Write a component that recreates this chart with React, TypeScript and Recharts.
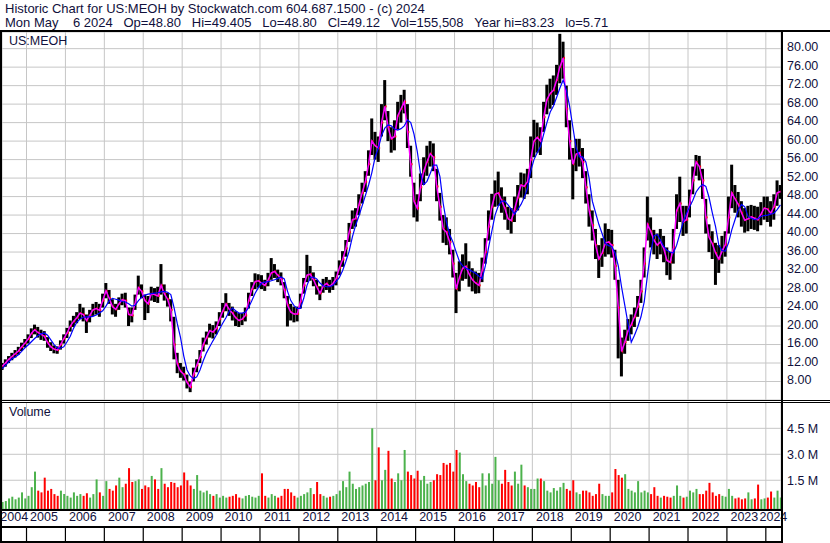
import React from 'react';
import { ComposedChart, Bar, Line, XAxis, YAxis, CartesianGrid, Cell } from 'recharts';

// monthly bars, May 2004 .. May 2024
const START = 2004.375;
const T0 = 2004.37;
const T1 = 2024.39;

const closes = [
  11.3, 12.0, 12.8, 13.4, 14.0, 14.6, 15.5, 16.3, 17.2, 18.4, 19.2, 18.6,
  18.2, 17.8, 16.4, 15.5, 15.0, 14.8, 16.0, 17.3, 18.5, 20.0, 21.0, 21.8,
  22.8, 22.5, 21.2, 22.3, 23.5, 23.8, 23.4, 25.5, 27.6, 26.0, 24.2, 23.6,
  24.8, 25.7, 25.5, 22.5, 22.3, 25.0, 28.3, 27.5, 25.5, 24.8, 27.0, 26.8,
  26.5, 28.8, 27.0, 25.8, 23.5, 16.0, 11.8, 10.2, 9.6, 7.8, 6.8, 9.5,
  11.5, 13.3, 16.0, 17.5, 19.0, 18.7, 19.5, 21.5, 23.2, 24.8, 23.6, 22.8,
  21.8, 21.2, 21.5, 22.3, 25.5, 28.0, 29.6, 29.8, 29.3, 28.8, 30.0, 31.5,
  31.8, 31.0, 30.2, 27.8, 24.5, 23.0, 22.6, 22.6, 25.3, 28.8, 31.0, 31.2,
  30.0, 28.5, 27.1, 28.6, 29.2, 28.6, 29.2, 30.3, 32.6, 34.4, 36.8, 40.3,
  43.0, 43.2, 46.2, 48.8, 51.2, 55.0, 60.0, 59.0, 58.5, 64.0, 67.5, 63.0,
  60.5, 61.0, 65.5, 67.0, 68.5, 62.0, 55.0, 47.0, 45.5, 50.0, 53.5, 55.5,
  57.3, 56.5, 50.2, 45.8, 41.0, 40.3, 38.2, 33.5, 28.0, 30.5, 32.5, 32.9,
  31.2, 30.0, 29.3, 28.8, 32.0, 36.0, 41.5, 45.8, 48.5, 48.8, 47.2, 45.5,
  43.2, 42.8, 45.2, 47.8, 50.5, 50.2, 51.2, 56.0, 60.0, 60.8, 60.0, 65.2,
  69.0, 70.3, 71.0, 73.2, 76.1, 78.0, 67.0, 60.0, 55.0, 57.2, 57.5, 55.5,
  50.0, 45.0, 41.8, 37.5, 34.5, 35.8, 37.9, 38.2, 37.5, 33.0, 24.0, 14.5,
  16.5, 19.0, 20.3, 22.0, 24.2, 27.5, 33.5, 42.0, 40.5, 38.6, 37.5, 38.2,
  36.8, 34.2, 33.8, 37.0, 45.0, 46.5, 42.5, 43.0, 46.5, 51.5, 55.5, 54.5,
  51.5, 43.5, 39.2, 37.8, 35.8, 34.5, 36.2, 37.6, 43.5, 48.8, 47.5, 46.3,
  44.5, 42.9, 43.2, 43.6, 43.3, 43.0, 44.2, 45.5, 45.3, 44.4, 45.8, 48.8,
  49.1,
];

const lows = [
  10.5, 11.2, 12.0, 12.6, 13.2, 13.8, 14.6, 15.4, 16.2, 17.4, 18.2, 17.5,
  17.0, 16.8, 15.3, 14.6, 14.1, 14.0, 14.9, 16.2, 17.4, 18.8, 19.8, 20.6,
  21.5, 21.0, 18.5, 20.8, 22.2, 22.5, 22.0, 24.0, 26.0, 24.8, 22.5, 22.0,
  23.5, 24.5, 24.0, 20.0, 20.8, 23.5, 26.8, 26.0, 21.3, 22.8, 25.5, 25.2,
  25.0, 26.8, 25.5, 24.2, 21.0, 12.8, 9.8, 8.8, 8.2, 6.5, 5.7, 8.0,
  10.0, 12.0, 14.5, 16.0, 17.5, 17.3, 18.2, 20.0, 21.8, 23.2, 22.2, 21.2,
  20.0, 19.8, 20.2, 21.0, 23.8, 26.5, 28.0, 28.3, 28.0, 27.6, 28.6, 30.0,
  30.4, 29.5, 28.8, 26.0, 19.9, 21.2, 20.8, 21.0, 23.8, 27.0, 29.5, 29.8,
  28.6, 26.8, 25.6, 27.2, 27.8, 27.2, 27.8, 28.8, 31.0, 32.8, 35.0, 38.2,
  41.0, 41.5, 44.0, 46.5, 49.0, 52.5, 57.0, 56.0, 55.5, 61.0, 64.5, 60.0,
  57.5, 58.0, 62.5, 64.0, 66.0, 58.5, 52.3, 43.5, 42.6, 47.0, 50.5, 52.5,
  54.5, 53.5, 47.0, 42.8, 38.0, 37.5, 35.5, 30.5, 22.8, 27.5, 29.8, 30.2,
  28.5, 27.5, 27.0, 27.1, 29.5, 33.5, 38.5, 43.0, 45.8, 46.0, 44.5, 43.0,
  40.8, 40.0, 42.5, 45.0, 47.8, 47.5, 48.5, 52.0, 56.5, 57.5, 57.0, 62.0,
  65.8, 67.0, 67.8, 70.0, 72.5, 73.5, 63.0, 56.0, 47.4, 53.5, 54.5, 52.0,
  46.5, 41.5, 38.5, 34.5, 30.4, 32.8, 35.0, 35.5, 34.8, 30.0, 13.0, 9.1,
  14.0, 16.8, 18.2, 19.8, 22.0, 25.0, 30.5, 38.5, 37.0, 35.5, 34.5, 35.5,
  33.8, 31.0, 30.0, 33.5, 41.0, 42.5, 39.5, 40.0, 43.5, 48.5, 52.5, 51.5,
  47.5, 40.0, 36.0, 34.5, 28.9, 31.5, 33.5, 35.0, 40.0, 45.5, 44.5, 43.5,
  41.5, 40.2, 40.5, 41.0, 40.8, 40.5, 41.8, 43.0, 42.5, 41.5, 43.0, 46.0,
  47.5,
];

const highs = [
  12.0, 12.8, 13.5, 14.2, 14.8, 15.5, 16.4, 17.2, 18.2, 19.5, 20.3, 19.8,
  19.2, 18.9, 17.6, 16.5, 15.8, 15.6, 16.9, 18.2, 19.6, 21.2, 22.2, 23.0,
  24.8, 24.0, 22.5, 23.5, 24.8, 25.2, 24.8, 27.0, 29.3, 27.8, 25.8, 24.8,
  26.2, 27.0, 27.2, 24.0, 24.0, 26.8, 30.9, 29.0, 26.8, 26.5, 28.5, 28.2,
  28.5, 33.4, 29.0, 27.2, 25.8, 22.0, 14.2, 12.0, 11.2, 9.5, 8.0, 11.0,
  12.8, 14.8, 17.5, 18.8, 20.5, 20.2, 21.0, 23.0, 25.0, 27.1, 25.0, 24.2,
  23.2, 22.8, 22.8, 24.0, 27.2, 29.5, 31.4, 31.2, 31.0, 30.0, 31.5, 34.7,
  33.4, 32.2, 31.6, 29.5, 26.5, 24.8, 24.2, 24.2, 27.0, 30.4, 35.4, 33.0,
  31.6, 30.0, 28.6, 30.2, 30.6, 30.0, 30.6, 31.8, 34.2, 36.2, 38.6, 42.3,
  45.0, 45.5, 48.5, 51.0, 53.5, 58.0, 64.9, 62.0, 61.0, 68.0, 73.2, 66.5,
  63.0, 64.5, 68.5, 70.0, 71.1, 68.0, 59.0, 51.0, 48.5, 53.0, 56.5, 59.0,
  60.0, 59.5, 54.0, 48.8, 44.0, 43.5, 41.0, 36.5, 31.5, 34.0, 35.5, 37.9,
  34.0, 32.5, 31.8, 31.5, 34.8, 39.0, 45.0, 48.6, 51.5, 53.4, 50.0, 48.0,
  45.8, 45.5, 48.0, 50.5, 53.2, 53.0, 54.0, 61.0, 64.6, 64.0, 63.0, 68.5,
  72.2, 73.5, 74.2, 76.5, 83.2, 81.5, 72.0, 64.5, 58.5, 60.5, 60.5, 58.5,
  53.5, 48.5, 45.0, 41.0, 37.5, 39.0, 42.2, 41.0, 40.8, 36.5, 30.0, 17.5,
  19.2, 21.5, 22.5, 24.0, 26.5, 30.0, 37.0, 48.0, 43.5, 40.8, 40.0, 41.0,
  39.5, 37.0, 36.0, 41.0, 48.5, 52.3, 46.0, 46.0, 49.5, 54.5, 57.0, 56.8,
  54.0, 47.5, 42.0, 40.5, 38.0, 37.5, 39.5, 40.5, 48.0, 54.9, 50.5, 49.0,
  47.0, 45.5, 46.0, 46.2, 46.0, 45.8, 46.8, 48.0, 48.0, 47.0, 48.5, 51.5,
  50.5,
];

// slow moving average (blue line)
const slowAvg = [
  10.8, 11.5, 12.2, 12.9, 13.3, 13.8, 14.5, 15.3, 15.9, 16.6, 17.3, 17.9,
  18.3, 18.5, 18.0, 17.0, 16.0, 15.2, 15.2, 15.5, 16.6, 17.8, 19.5, 20.8,
  21.5, 21.9, 22.0, 22.0, 22.1, 22.4, 22.8, 23.3, 24.3, 25.5, 26.0, 25.8,
  25.6, 25.3, 25.2, 24.8, 24.3, 24.5, 25.5, 26.2, 26.7, 26.9, 27.0, 27.1,
  27.2, 27.4, 27.5, 27.3, 26.8, 24.0, 20.5, 17.5, 13.5, 10.5, 9.2, 8.6,
  9.0, 10.5, 12.5, 14.2, 15.5, 16.8, 18.0, 19.3, 20.6, 21.8, 23.2, 23.9,
  23.3, 22.8, 22.8, 23.0, 24.0, 25.5, 27.1, 28.3, 29.3, 29.5, 29.6, 29.8,
  30.0, 30.3, 30.6, 30.2, 27.5, 25.5, 24.4, 23.8, 23.8, 26.0, 28.8, 30.5,
  30.6, 30.2, 29.3, 28.7, 28.5, 28.5, 28.8, 29.6, 30.5, 32.0, 34.0, 36.2,
  39.3, 41.8, 43.8, 46.0, 48.2, 50.5, 53.2, 56.5, 58.5, 61.2, 62.8, 63.5,
  63.3, 62.6, 62.4, 62.7, 63.3, 64.6, 64.0, 61.5, 57.8, 53.0, 50.6, 51.3,
  53.0, 54.8, 54.8, 52.3, 46.5, 42.5, 39.8, 38.2, 36.0, 34.0, 33.0, 32.5,
  32.2, 31.8, 31.4, 30.8, 30.2, 33.0, 37.0, 40.5, 44.0, 46.0, 47.0, 47.0,
  46.2, 45.3, 44.2, 45.2, 46.3, 47.8, 49.8, 53.5, 56.0, 57.5, 58.8, 61.5,
  64.0, 66.3, 67.6, 69.5, 71.5, 73.2, 71.0, 67.5, 63.0, 58.5, 56.6, 56.6,
  55.5, 52.0, 47.0, 44.5, 42.0, 40.0, 37.9, 37.4, 37.2, 35.8, 33.0, 28.5,
  24.5, 20.5, 16.5, 18.0, 19.8, 22.0, 25.2, 31.0, 36.0, 39.5, 39.8, 38.6,
  37.2, 36.4, 36.0, 35.8, 37.5, 40.0, 42.5, 44.3, 45.8, 47.2, 49.0, 50.0,
  50.6, 50.2, 47.8, 44.5, 41.5, 37.5, 36.3, 36.2, 38.0, 40.8, 43.0, 45.1,
  46.3, 45.8, 43.7, 43.3, 43.0, 43.2, 43.7, 43.9, 44.0, 44.2, 44.4, 45.2,
  46.2,
];

// volume, millions of shares
const volumes = [
  0.25, 0.3, 0.45, 0.55, 0.4, 0.5, 0.8, 0.45, 0.6, 1.1, 2.0, 0.9,
  0.8, 1.65, 0.9, 1.0, 0.7, 0.6, 0.9, 0.7, 0.6, 0.5, 0.8, 0.6,
  0.7, 0.6, 0.75, 0.5, 0.7, 1.55, 0.8, 0.6, 1.45, 1.0, 0.9, 1.2,
  1.65, 1.1, 1.3, 2.2, 1.4, 1.45, 1.55, 1.0, 1.2, 1.1, 1.75, 1.55,
  1.0, 2.2, 1.3, 1.1, 1.4, 1.35, 1.1, 1.2, 1.95, 1.5, 1.2, 1.0,
  1.8, 0.9, 0.8, 0.9, 0.7, 0.6, 0.7, 0.5, 0.6, 0.5, 0.55, 0.6,
  0.7, 0.5, 0.45, 0.6, 0.65, 0.55, 0.5, 0.6, 1.9, 0.6, 0.5, 0.7,
  0.6, 0.5, 0.6, 1.0, 1.0, 0.8, 0.6, 0.5, 0.6, 0.7, 0.8, 1.05,
  0.7, 1.4, 0.7, 0.6, 0.5, 0.55, 0.6, 0.7, 0.9, 1.45, 1.1, 2.0,
  1.3, 1.0, 1.1, 1.2, 1.3, 1.4, 4.5, 1.5, 3.4, 1.5, 2.1, 3.2,
  1.6, 1.4, 1.9, 1.5, 3.25, 2.0, 1.8, 1.6, 2.05, 1.5, 1.75, 1.3,
  1.4, 1.5, 1.85, 1.8, 2.5, 2.4, 2.5, 2.0, 3.25, 3.1, 1.85, 1.45,
  1.3, 1.2, 1.4, 1.1, 1.9, 1.2, 1.9, 1.3, 2.85, 1.5, 1.3, 2.1,
  1.4, 1.2, 2.0, 1.3, 2.4, 1.2, 1.1, 1.0, 1.0, 1.6, 1.6, 1.45,
  0.9, 0.8, 1.05, 0.9, 1.1, 1.35, 1.0, 0.9, 1.5, 0.8, 0.7, 0.9,
  0.9, 0.8, 0.6, 0.7, 1.3, 0.7, 0.6, 0.6, 0.8, 2.15, 1.8, 1.65,
  1.85, 1.0, 0.9, 0.8, 1.45, 0.8, 0.9, 0.8, 0.7, 1.1, 0.6, 0.5,
  0.6, 0.55, 0.5, 0.6, 1.2, 0.6, 0.5, 0.55, 0.9, 0.8, 1.0, 0.7,
  0.7, 0.9, 1.35, 0.8, 0.6, 0.7, 0.6, 0.55, 1.0, 0.6, 0.45, 0.5,
  0.4, 0.45, 0.8, 0.4, 0.45, 1.25, 0.4, 0.45, 0.5, 0.85, 0.5, 0.9,
  0.5,
];

const yearTicks = [
  2005, 2006, 2007, 2008, 2009, 2010, 2011, 2012, 2013, 2014,
  2015, 2016, 2017, 2018, 2019, 2020, 2021, 2022, 2023, 2024,
];
const labelTicks = [
  (T0 + 2005) / 2, 2005.5, 2006.5, 2007.5, 2008.5, 2009.5, 2010.5, 2011.5, 2012.5, 2013.5,
  2014.5, 2015.5, 2016.5, 2017.5, 2018.5, 2019.5, 2020.5, 2021.5, 2022.5, 2023.5, (2024 + T1) / 2,
];
const priceTicks = [8, 12, 16, 20, 24, 28, 32, 36, 40, 44, 48, 52, 56, 60, 64, 68, 72, 76, 80];
const volTicks = [1.5, 3.0, 4.5];
const VOL_MIN = -0.16;
const VOL_MAX = 6.02;

const rows = closes.map((c, i) => ({
  t: START + i / 12,
  cl: c,
  hl: [lows[i], highs[i]],
  ma: slowAvg[i],
  vb: [VOL_MIN, volumes[i]],
  up: i === 0 || c >= closes[i - 1],
}));

const FONT = '"Liberation Sans", Arial, sans-serif';
const TXT = '#10103c';
const GRID = '#c6c6c6';

const OhlcShape = (props: any) => {
  const { x, y, width, height, payload } = props;
  if (x == null || y == null) return null;
  const top = Math.min(y, y + height);
  const h = Math.abs(height);
  const [lo, hi] = payload.hl;
  const f = hi > lo ? (hi - payload.cl) / (hi - lo) : 0;
  const cy = top + f * h;
  return (
    <g>
      <rect x={x} y={top} width={width} height={Math.max(h, 1)} fill="#000" />
      <rect x={x + width - 1.2} y={cy - 1} width={1.6} height={2} fill="#ff0000" />
    </g>
  );
};

const PriceTick = ({ x, y, payload }: any) => (
  <text x={x} y={y} dy={2.5} fill={TXT} fontSize={12.5} fontFamily={FONT} textAnchor="start">
    {payload.value.toFixed(2)}
  </text>
);

const VolTick = ({ x, y, payload }: any) => (
  <text x={x} y={y} dy={4.5} fill={TXT} fontSize={12.5} fontFamily={FONT} textAnchor="start">
    {payload.value.toFixed(1) + ' M'}
  </text>
);

const YearTick = ({ x, y, payload }: any) => {
  const yr = Math.floor(payload.value);
  const dx = yr === 2004 || yr === 2024 ? 0 : -2;
  return (
    <text x={x + dx} y={y} dy={12} fill={TXT} fontSize={12.5} fontFamily={FONT} textAnchor="middle">
      {String(yr)}
    </text>
  );
};

const line = (left: number, top: number, width: number, height: number): React.CSSProperties => ({
  position: 'absolute',
  left,
  top,
  width,
  height,
  background: '#000',
});

export default function App() {
  return (
    <div
      style={{
        position: 'absolute',
        left: 0,
        top: 0,
        width: 830,
        height: 543,
        background: '#fff',
        overflow: 'hidden',
        fontFamily: FONT,
        color: TXT,
      }}
    >
      <div style={{ position: 'absolute', left: 5, top: 1, fontSize: 13, lineHeight: '15px', whiteSpace: 'pre' }}>
        {'Historic Chart for US:MEOH by Stockwatch.com 604.687.1500 - (c) 2024'}
      </div>
      <div style={{ position: 'absolute', left: 5, top: 15, fontSize: 13, lineHeight: '15px', whiteSpace: 'pre' }}>
        {'Mon May    6 2024   Op=48.80   Hi=49.405   Lo=48.80   Cl=49.12   Vol=155,508   Year hi=83.23   lo=5.71'}
      </div>

      <div style={{ position: 'absolute', left: 0, top: 32 }}>
        <ComposedChart width={830} height={368} data={rows} margin={{ top: 0, right: 0, left: 2, bottom: 0 }}>
          <CartesianGrid stroke={GRID} strokeWidth={1} />
          <XAxis type="number" dataKey="t" domain={[T0, T1]} ticks={yearTicks} allowDataOverflow hide interval={0} />
          <YAxis
            orientation="right"
            domain={[4, 83.6]}
            ticks={priceTicks}
            allowDataOverflow
            width={49}
            interval={0}
            axisLine={false}
            tickLine={false}
            tickSize={4}
            tickMargin={2}
            tick={<PriceTick />}
          />
          <Bar dataKey="hl" barSize={3} shape={<OhlcShape />} isAnimationActive={false} />
          <Line dataKey="cl" type="linear" stroke="#ff00ff" strokeWidth={1.5} dot={false} isAnimationActive={false} />
          <Line dataKey="ma" type="linear" stroke="#0000ff" strokeWidth={1.2} dot={false} isAnimationActive={false} />
        </ComposedChart>
      </div>

      <div style={{ position: 'absolute', left: 0, top: 402 }}>
        <ComposedChart width={830} height={141} data={rows} margin={{ top: 0, right: 0, left: 2, bottom: 0 }}>
          <CartesianGrid stroke={GRID} strokeWidth={1} xAxisId="yr" />
          <XAxis
            xAxisId="yr"
            type="number"
            dataKey="t"
            domain={[T0, T1]}
            ticks={yearTicks}
            allowDataOverflow
            interval={0}
            height={17}
            tickSize={17}
            tickLine={{ stroke: '#000', strokeWidth: 1.2 }}
            axisLine={false}
            tickFormatter={() => ''}
          />
          <XAxis
            xAxisId="lbl"
            type="number"
            dataKey="t"
            domain={[T0, T1]}
            ticks={labelTicks}
            allowDataOverflow
            interval={0}
            height={17}
            tickSize={0}
            tickMargin={0}
            tickLine={false}
            axisLine={false}
            tick={<YearTick />}
          />
          <YAxis
            orientation="right"
            domain={[VOL_MIN, VOL_MAX]}
            ticks={volTicks}
            allowDataOverflow
            width={49}
            interval={0}
            axisLine={false}
            tickLine={false}
            tickSize={4}
            tickMargin={2}
            tick={<VolTick />}
          />
          <Bar xAxisId="yr" dataKey="vb" barSize={2} isAnimationActive={false}>
            {rows.map((r, i) => (
              <Cell key={i} fill={r.up ? '#4cb24c' : '#ff0000'} />
            ))}
          </Bar>
        </ComposedChart>
      </div>

      <div style={{ position: 'absolute', left: 9, top: 34, fontSize: 12.5, lineHeight: '14px' }}>US:MEOH</div>
      <div style={{ position: 'absolute', left: 9, top: 405, fontSize: 12.5, lineHeight: '14px' }}>Volume</div>

      <div style={line(0, 30, 830, 2)} />
      <div style={line(0, 30, 2, 513)} />
      <div style={line(781, 30, 2, 513)} />
      <div style={line(0, 400, 830, 1)} />
      <div style={line(0, 402, 830, 1)} />
      <div style={line(0, 509, 783, 2)} />
      <div style={line(0, 526, 783, 2)} />
      <div style={line(0, 541, 783, 2)} />
    </div>
  );
}
